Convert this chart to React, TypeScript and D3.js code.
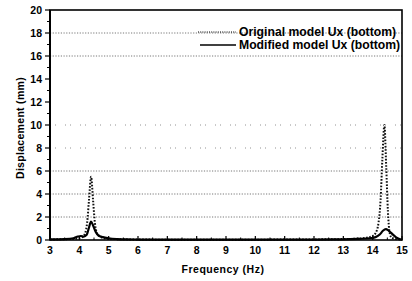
import React from "react";
import * as d3 from "d3";

const xTicks = [3, 4, 5, 6, 7, 8, 9, 10, 11, 12, 13, 14, 15];
const yTicks = [0, 2, 4, 6, 8, 10, 12, 14, 16, 18, 20];
const gridDense = [2, 4, 6, 16, 18];
const gridSparse = [8, 10];

const origFreq = [3, 3.5, 3.8, 4.0, 4.1, 4.2, 4.27, 4.33, 4.4, 4.47, 4.53, 4.6, 4.7, 4.85, 5.0, 5.5, 6, 7, 8, 9, 10, 11, 12, 13, 13.5, 13.8, 14.0, 14.1, 14.2, 14.27, 14.33, 14.4, 14.46, 14.52, 14.58, 14.65, 14.8, 15];
const origVal = [0.05, 0.07, 0.1, 0.15, 0.25, 0.6, 1.6, 3.5, 5.5, 3.4, 1.5, 0.6, 0.3, 0.15, 0.1, 0.06, 0.04, 0.03, 0.03, 0.03, 0.03, 0.04, 0.05, 0.08, 0.12, 0.2, 0.35, 0.6, 1.5, 3.5, 7.0, 10.0, 6.5, 2.5, 0.6, 0.2, 0.08, 0.04];

const modFreq = [3, 3.5, 3.8, 3.95, 4.05, 4.15, 4.25, 4.32, 4.4, 4.48, 4.56, 4.65, 4.8, 5.0, 5.3, 5.6, 6, 7, 8, 9, 10, 11, 12, 13, 13.5, 13.9, 14.1, 14.25, 14.35, 14.45, 14.55, 14.7, 14.85, 15];
const modVal = [0.05, 0.08, 0.15, 0.3, 0.35, 0.3, 0.45, 1.0, 1.6, 1.2, 0.7, 0.4, 0.25, 0.15, 0.08, 0.05, 0.04, 0.03, 0.03, 0.03, 0.03, 0.03, 0.04, 0.06, 0.1, 0.15, 0.25, 0.5, 0.8, 0.95, 0.8, 0.45, 0.15, 0.02];

const W = 412;
const H = 281;
const m = { left: 50, right: 10, top: 10, bottom: 41 };

export default function App() {
  const x = d3.scaleLinear().domain([3, 15]).range([m.left, W - m.right]);
  const y = d3.scaleLinear().domain([0, 20]).range([H - m.bottom, m.top]);
  const origData = origFreq.map((f, i) => [f, origVal[i]] as [number, number]);
  const modData = modFreq.map((f, i) => [f, modVal[i]] as [number, number]);
  const line = d3
    .line<[number, number]>()
    .x((d) => x(d[0]))
    .y((d) => y(d[1]))
    .curve(d3.curveMonotoneX);
  const font = "'Liberation Sans', Arial, sans-serif";
  const minorX = d3.range(3.5, 15, 1);
  const minorY = d3.range(1, 20, 2);
  return (
    <svg width={W} height={H} style={{ position: "absolute", left: 0, top: 0, background: "#fff" }} fontFamily={font}>
      {gridDense.map((v) => (
        <line key={"g" + v} x1={x(3)} x2={x(15)} y1={y(v)} y2={y(v)} stroke="#555" strokeWidth={0.8} strokeDasharray="1.2,1.5" />
      ))}
      {gridSparse.map((v) => (
        <line key={"s" + v} x1={x(3)} x2={x(15)} y1={y(v)} y2={y(v)} stroke="#777" strokeWidth={0.8} strokeDasharray="1,4,1,9" />
      ))}
      <path d={line(origData) || ""} fill="none" stroke="#111" strokeWidth={2} strokeDasharray="1.6,1.6" />
      <path d={line(modData) || ""} fill="none" stroke="#000" strokeWidth={2.2} />
      <rect x={x(3)} y={y(20)} width={x(15) - x(3)} height={y(0) - y(20)} fill="none" stroke="#000" strokeWidth={1.6} />
      <line x1={x(3)} x2={x(3)} y1={y(20)} y2={y(0)} stroke="#000" strokeWidth={2} />
      {xTicks.map((t) => (
        <g key={"xt" + t}>
          <line x1={x(t)} x2={x(t)} y1={y(0)} y2={y(0) - 4} stroke="#000" strokeWidth={1.2} />
          <text x={x(t)} y={y(0) + 14} textAnchor="middle" fontSize={10.5} fontWeight="bold">{t}</text>
        </g>
      ))}
      {minorX.map((t) => (
        <line key={"xm" + t} x1={x(t)} x2={x(t)} y1={y(0)} y2={y(0) - 2.5} stroke="#000" strokeWidth={1} />
      ))}
      {yTicks.map((t) => (
        <g key={"yt" + t}>
          <line x1={x(3) - 5} x2={x(3)} y1={y(t)} y2={y(t)} stroke="#000" strokeWidth={1.2} />
          <text x={x(3) - 8} y={y(t) + 3.5} textAnchor="end" fontSize={10.5} fontWeight="bold">{t}</text>
        </g>
      ))}
      {minorY.map((t) => (
        <line key={"ym" + t} x1={x(3) - 3} x2={x(3)} y1={y(t)} y2={y(t)} stroke="#000" strokeWidth={1} />
      ))}
      <text x={(x(3) + x(15)) / 2 - 3} y={273} textAnchor="middle" fontSize={10.5} fontWeight="bold" letterSpacing={0.5}>Frequency (Hz)</text>
      <text transform={`translate(24,${(y(0) + y(20)) / 2 + 3}) rotate(-90)`} textAnchor="middle" fontSize={10.5} fontWeight="bold" letterSpacing={0.3}>Displacement (mm)</text>
      <line x1={198} x2={236} y1={32} y2={32} stroke="#000" strokeWidth={1} strokeDasharray="1,1.2" />
      <text x={239} y={36} textAnchor="start" fontSize={12.2} fontWeight="bold">Original model Ux (bottom)</text>
      <line x1={200} x2={236} y1={45} y2={45} stroke="#000" strokeWidth={1.4} />
      <text x={239} y={49} textAnchor="start" fontSize={12.2} fontWeight="bold">Modified model Ux (bottom)</text>
    </svg>
  );
}
